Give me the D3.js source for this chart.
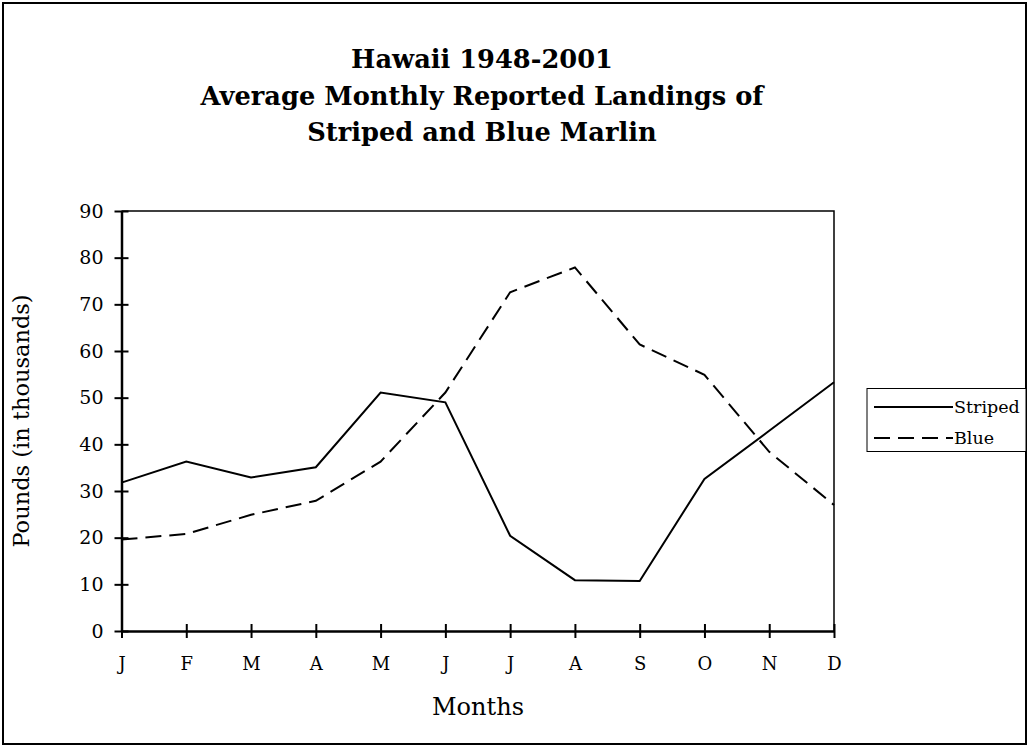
<!DOCTYPE html>
<html>
<head>
<meta charset="utf-8">
<script src="https://cdn.jsdelivr.net/npm/d3@7"></script>
<style>
  html, body { margin: 0; padding: 0; background: #fff; }
  svg { display: block; }
</style>
</head>
<body>
<svg id="chart" width="1030" height="746"></svg>
<script>
const titleLines = ["Hawaii 1948-2001", "Average Monthly Reported Landings of", "Striped and Blue Marlin"];
const months = ["J", "F", "M", "A", "M", "J", "J", "A", "S", "O", "N", "D"];
const striped = [31.8, 36.3, 32.9, 35.1, 51.1, 49.0, 20.4, 10.9, 10.7, 32.6, 42.9, 53.3];
const blue = [19.6, 20.8, 24.9, 27.9, 36.3, 51.1, 72.6, 77.9, 61.4, 54.9, 38.4, 27.0];
const yTicks = [0, 10, 20, 30, 40, 50, 60, 70, 80, 90];
const seriesNames = ["Striped", "Blue"];
const xTitle = "Months";
const yTitle = "Pounds (in thousands)";

const svg = d3.select("#chart");
const serif = "'DejaVu Serif', serif";

// outer frame
svg.append("rect").attr("x", 3).attr("y", 3).attr("width", 1023).attr("height", 741)
  .attr("fill", "none").attr("stroke", "#000").attr("stroke-width", 2);

// title
svg.append("g").selectAll("text").data(titleLines).join("text")
  .attr("x", 482).attr("y", (d, i) => 68 + i * 36.5)
  .attr("text-anchor", "middle")
  .style("font-family", serif).style("font-weight", "bold").style("font-size", "25.7px")
  .text(d => d);

const L = 121.5, R = 834, T = 211, B = 631;
const x = d3.scalePoint().domain(d3.range(months.length)).range([L, R]);
const y = d3.scaleLinear().domain([0, 90]).range([B, T]);

// plot border (top, right)
svg.append("path").attr("d", `M${L},${T}H${R}V${B}`).attr("fill", "none")
  .attr("stroke", "#000").attr("stroke-width", 1.5);

// y axis
const yAxis = d3.axisLeft(y).tickValues(yTicks).tickSizeInner(7).tickSizeOuter(0).tickPadding(9);
const gy = svg.append("g").attr("transform", `translate(${L},0)`).call(yAxis);
gy.select(".domain").attr("stroke-width", 2.5);
gy.selectAll(".tick line").attr("stroke-width", 2).attr("x2", -7).attr("x1", 7);
gy.selectAll(".tick text").style("font-family", serif).style("font-size", "19px").attr("fill", "#000").attr("x", -18);

// x axis
const xAxis = d3.axisBottom(x).tickFormat(i => months[i]).tickSizeInner(7).tickSizeOuter(0).tickPadding(14);
const gx = svg.append("g").attr("transform", `translate(0,${B})`).call(xAxis);
gx.select(".domain").attr("stroke-width", 2.5);
gx.selectAll(".tick line").attr("stroke-width", 2).attr("y1", -7).attr("y2", 7);
gx.selectAll(".tick text").style("font-family", serif).style("font-size", "18px").attr("fill", "#000")
  .attr("dy", null).attr("y", 39);

// axis titles
svg.append("text").attr("x", 478).attr("y", 715).attr("text-anchor", "middle")
  .style("font-family", serif).style("font-size", "24px").text(xTitle);
svg.append("text").attr("transform", "translate(29,421) rotate(-90)").attr("text-anchor", "middle")
  .style("font-family", serif).style("font-size", "22.5px").text(yTitle);

// lines
const line = d3.line().x((d, i) => x(i)).y(d => y(d));
const plot = svg.append("g");
plot.append("path").datum(striped).attr("d", line).attr("fill", "none")
  .attr("stroke", "#000").attr("stroke-width", 2);
plot.append("path").datum(blue).attr("d", line).attr("fill", "none")
  .attr("stroke", "#000").attr("stroke-width", 2).attr("stroke-dasharray", "16,8");

// legend
const lg = svg.append("g");
lg.append("rect").attr("x", 867).attr("y", 388.5).attr("width", 159).attr("height", 63)
  .attr("fill", "#fff").attr("stroke", "#000").attr("stroke-width", 1);
const dashes = [null, "16,8"];
seriesNames.forEach((name, i) => {
  const yy = 407 + i * 31;
  lg.append("line").attr("x1", 874).attr("x2", 953).attr("y1", yy).attr("y2", yy)
    .attr("stroke", "#000").attr("stroke-width", 2).attr("stroke-dasharray", dashes[i]);
  lg.append("text").attr("x", 954).attr("y", yy + 6).style("font-family", serif)
    .style("font-size", "17.5px").text(name);
});
</script>
</body>
</html>
